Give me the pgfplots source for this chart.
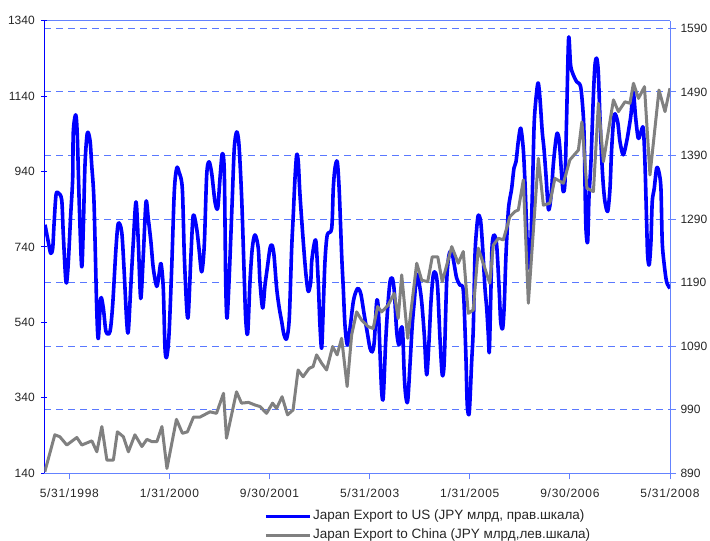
\documentclass[border=0pt]{standalone}
\usepackage{fontspec}
\setmainfont{Liberation Sans}
\newfontfamily\spacedfont[LetterSpace=6]{Liberation Sans}
\usepackage{pgfplots}
\pgfplotsset{compat=1.18}

\definecolor{usblue}{RGB}{0,0,255}
\definecolor{cngrey}{RGB}{128,128,128}
\definecolor{frameblue}{RGB}{100,130,255}
\definecolor{gridblue}{RGB}{90,120,255}

% x = months since Dec 1997 (0 = 12/31/1997, 125 = 5/31/2008)
\pgfplotsset{
  base/.style={
    scale only axis, width=625.7pt, height=452.6pt,
    at={(0pt,0pt)}, anchor=south west,
    xmin=0, xmax=125,
    tick label style={font=\fontsize{12}{14}\selectfont, text=black!85},
    /pgf/number format/assume math mode=true,
    /pgf/number format/1000 sep={},
    major tick length=6pt, tick align=outside,
  },
}

\begin{document}
\begin{tikzpicture}
\path[use as bounding box] (-44.3pt,-67.7pt) rectangle (665.7pt,473.3pt);

% right scale: Japan export to US
\begin{axis}[base,
  ymin=890, ymax=1602,
  axis x line=none, axis y line*=right,
  ytick={890,990,...,1590},
  ymajorgrids,
  grid style={gridblue, line width=0.8pt, dash pattern=on 7pt off 5pt},
  y axis line style={frameblue, line width=1pt, -},
  tick style={frameblue, line width=0.8pt},
  yticklabel style={xshift=1pt},
]
\addplot[usblue, line width=3.6pt, smooth, line join=round] coordinates {
(0.14,1281) (0.8,1254) (1.28,1236) (1.68,1244) (1.94,1281) (2.34,1328) (2.8,1331)
(3.48,1320) (3.8,1265) (4.33,1191) (4.73,1213) (5.27,1296) (5.67,1354) (5.79,1427)
(6.27,1454) (6.59,1422) (6.99,1312) (7.47,1215) (7.79,1275) (8.13,1375) (8.59,1425)
(9.13,1414) (9.47,1375) (9.93,1317) (10.47,1150) (10.79,1102) (11.27,1165) (11.79,1150)
(12.33,1113) (13.12,1113) (13.66,1155) (14.32,1244) (14.78,1283) (15.46,1270) (15.92,1213)
(16.46,1129) (16.78,1113) (17.26,1181) (17.78,1254) (18.32,1317) (18.78,1254) (19.26,1165)
(19.78,1233) (20.32,1317) (20.78,1290) (21.3,1254) (21.77,1213) (22.45,1184) (22.91,1202)
(23.31,1220) (23.77,1181) (24.11,1087) (24.45,1073) (24.91,1108) (25.45,1213) (25.97,1333)
(26.45,1370) (26.91,1364) (27.57,1338) (27.97,1233) (28.45,1150) (28.77,1139) (29.3,1233)
(29.76,1296) (30.44,1275) (30.9,1244) (31.44,1207) (31.96,1249) (32.44,1359) (32.9,1380)
(33.44,1362) (34.1,1317) (34.64,1307) (35.1,1354) (35.56,1393) (35.96,1364) (36.24,1191)
(36.5,1134) (36.9,1191) (37.3,1270) (37.56,1323) (37.95,1401) (38.43,1427) (38.89,1407)
(39.43,1323) (39.89,1213) (40.23,1134) (40.63,1110) (41.09,1191) (41.55,1244) (42.09,1265)
(42.75,1244) (43.09,1191) (43.63,1150) (44.09,1186) (44.55,1213) (45.09,1244) (45.49,1249)
(45.89,1233) (46.42,1181) (46.94,1150) (47.42,1129) (47.88,1108) (48.42,1102) (48.94,1134)
(49.42,1244) (49.74,1296) (50.08,1354) (50.42,1391) (50.74,1380) (51.08,1328) (51.74,1254)
(52.28,1202) (52.74,1176) (53.22,1191) (53.42,1223) (53.88,1249) (54.28,1254) (54.73,1191)
(55.07,1123) (55.41,1087) (55.73,1150) (56.07,1223) (56.53,1265) (57.41,1275) (57.73,1338)
(58.07,1370) (58.53,1380) (58.93,1333) (59.41,1233) (59.73,1181) (60.07,1123) (60.53,1092)
(61.07,1118) (61.73,1160) (62.27,1176) (62.72,1181) (63.27,1171) (63.92,1139) (64.6,1108)
(65.06,1087) (65.52,1081) (65.92,1097) (66.4,1160) (66.72,1150) (67.06,1081) (67.4,1018)
(67.72,1010) (68.2,1097) (68.6,1150) (69.06,1191) (69.52,1197) (69.92,1176) (70.4,1113)
(70.86,1092) (71.26,1118) (71.59,1113) (71.91,1045) (72.19,1013) (72.59,1003) (73.05,1060)
(73.51,1123) (73.91,1160) (74.39,1202) (74.85,1191) (75.39,1160) (75.91,1108) (76.39,1045)
(76.85,1097) (77.25,1160) (77.71,1202) (78.19,1205) (78.59,1181) (79.05,1102) (79.5,1045)
(79.9,1066) (80.38,1191) (80.84,1233) (81.38,1239) (81.9,1218) (82.38,1197) (83.04,1186)
(83.58,1184) (83.84,1160) (84.24,1071) (84.5,997) (84.9,986) (85.38,1066) (85.7,1118)
(86.04,1233) (86.38,1275) (86.7,1296) (87.18,1286) (87.58,1244) (88.04,1181) (88.38,1150)
(88.7,1108) (88.9,1081) (89.17,1160) (89.43,1244) (89.83,1265) (90.37,1249) (90.89,1176)
(91.17,1129) (91.57,1118) (91.89,1155) (92.23,1233) (92.69,1302) (93.03,1323) (93.37,1338)
(93.83,1370) (94.23,1380) (94.69,1412) (95.17,1433) (95.68,1401) (96.02,1349) (96.36,1275)
(96.69,1213) (97.16,1244) (97.56,1349) (97.88,1443) (98.36,1490) (98.68,1504) (99.02,1480)
(99.48,1427) (99.82,1401) (100.22,1359) (100.68,1307) (101.02,1312) (101.36,1338) (101.68,1375)
(102.16,1412) (102.48,1425) (102.88,1412) (103.36,1359) (103.68,1333) (104.02,1349) (104.36,1454)
(104.75,1575) (105.14,1532) (105.67,1517) (106.35,1506) (107.15,1498) (107.67,1454) (107.87,1412)
(108.01,1349) (108.21,1275) (108.55,1254) (108.81,1323) (109.21,1380) (109.67,1480) (110.01,1532)
(110.35,1543) (110.67,1522) (111.01,1449) (111.35,1386) (111.67,1344) (112.01,1317) (112.55,1302)
(113.01,1338) (113.35,1401) (113.86,1454) (114.54,1443) (115.0,1412) (115.66,1391) (116.34,1412)
(116.8,1433) (117.2,1454) (117.66,1490) (118.14,1449) (118.66,1417) (119.2,1427) (119.66,1433)
(119.99,1380) (120.33,1286) (120.53,1233) (120.85,1218) (121.19,1254) (121.45,1317) (121.85,1338)
(122.33,1370) (122.79,1364) (123.19,1338) (123.45,1254) (123.85,1218) (124.33,1191) (125.0,1181)
};
\draw[frameblue, line width=1pt] (rel axis cs:0,1) -- (rel axis cs:1,1);
\end{axis}

% left scale: Japan export to China
\begin{axis}[base,
  ymin=140, ymax=1340,
  axis x line*=bottom, axis y line*=left,
  xtick={5,25,45,65,85,105,125},
  xticklabels={5/31/1998,1/31/2000,9/30/2001,5/31/2003,1/31/2005,9/30/2006,5/31/2008},
  ytick={140,340,...,1340},
  x axis line style={frameblue, line width=1pt, -},
  y axis line style={usblue, line width=1.3pt, -},
  xtick style={frameblue, line width=0.8pt},
  ytick style={usblue, line width=1pt, xshift=3pt},
  xticklabel style={yshift=-5.5pt, font=\spacedfont\fontsize{12}{14}\selectfont},
  legend image code/.code={\draw[#1] (0pt,0pt) -- (44pt,0pt);},
  legend cell align=left,
  legend style={at={(0.351,-0.078)}, anchor=north west, draw=none, fill=none,
    inner sep=0pt, row sep=3pt,
    font=\fontsize{13.5}{16}\selectfont, text=black!85,
    nodes={inner sep=1.5pt, text height=9.5pt, text depth=3pt}},
]
\addlegendimage{usblue, line width=3.6pt}
\addlegendentry{Japan Export to US (JPY млрд, прав.шкала)}
\addplot[cngrey, line width=3pt, line join=round] coordinates {
(0.1,144) (2.1,242) (3.1,237) (4.5,215) (6.5,235) (7.5,215) (9.5,226) (10.5,197)
(11.5,264) (12.5,175) (13.8,175) (14.6,250) (15.8,237) (16.8,197) (18.1,242) (19.5,211)
(20.5,230) (21.5,224) (22.5,224) (23.5,264) (24.5,153) (26.4,283) (27.6,246) (28.6,250)
(29.8,289) (31.1,289) (33.1,303) (34.4,299) (35.8,352) (36.4,233) (38.4,356) (39.4,326)
(40.8,328) (42.1,321) (43.1,317) (44.4,299) (45.6,326) (46.4,312) (47.5,343) (48.6,295)
(49.7,308) (50.7,414) (51.7,396) (52.9,418) (53.7,423) (54.4,454) (55.4,432) (56.4,414)
(57.6,476) (58.5,454) (59.4,498) (60.5,370) (61.4,507) (62.4,568) (63.4,546) (64.7,529)
(65.7,524) (66.6,582) (67.4,568) (68.7,586) (69.9,617) (70.7,551) (71.4,666) (72.6,498)
(74.4,697) (75.4,652) (76.6,648) (77.5,714) (78.6,714) (79.5,648) (81.4,741) (82.7,697)
(83.7,728) (84.7,564) (85.7,573) (86.7,737) (88.0,684) (89.0,644) (89.7,745) (90.7,763)
(91.7,759) (93.0,820) (94.0,834) (94.7,838) (95.7,918) (96.7,591) (98.7,975) (99.7,851)
(101.0,856) (102.0,922) (103.7,909) (105.0,971) (106.7,997) (107.4,1072) (108.4,896) (109.7,887)
(110.7,1121) (111.7,966) (113.7,1130) (114.7,1099) (116.0,1125) (117.0,1121) (117.7,1174) (118.7,1134)
(119.9,1165) (121.0,931) (122.8,1156) (124.0,1099) (125.0,1161)
};
\addlegendentry{Japan Export to China (JPY млрд,лев.шкала)}
\end{axis}
\end{tikzpicture}
\end{document}
